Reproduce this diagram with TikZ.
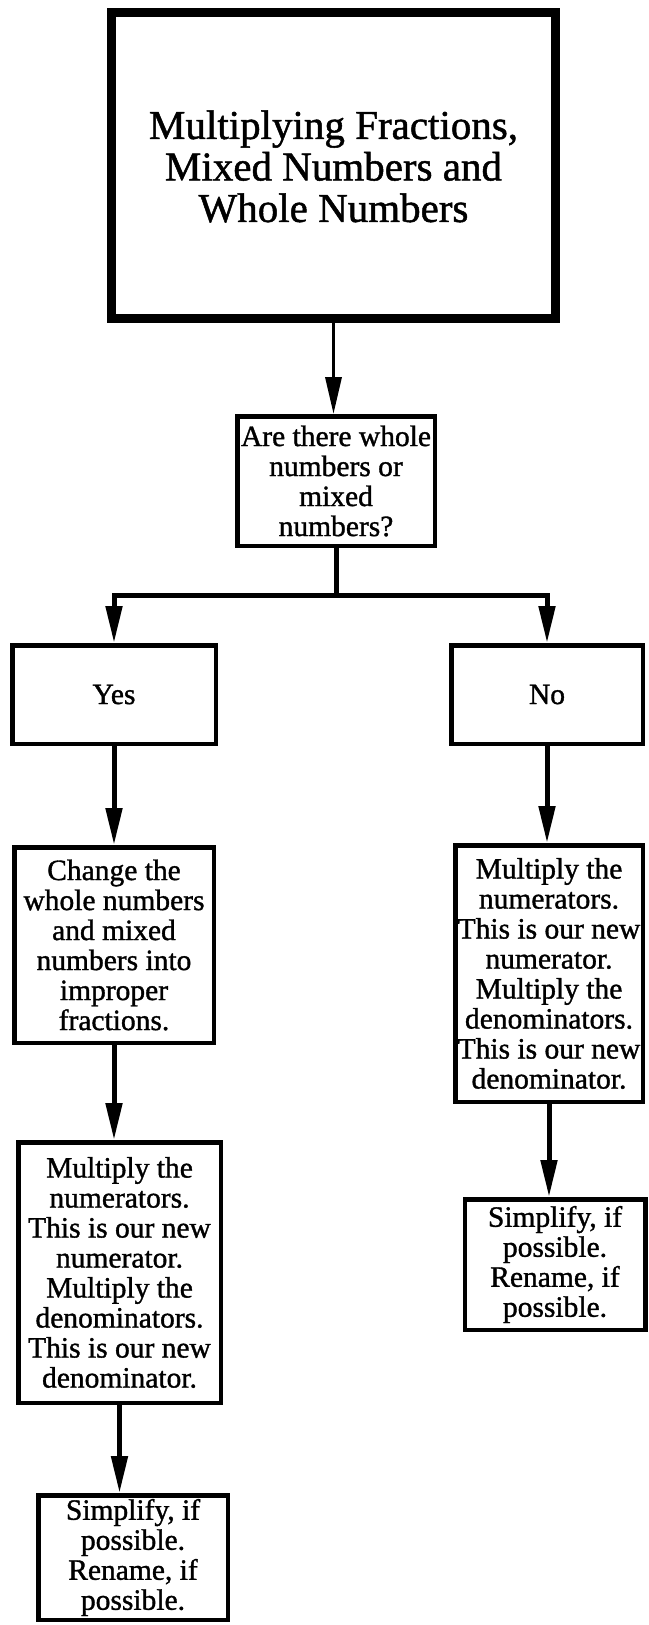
\documentclass[tikz,border=0pt]{standalone}
\usepackage{fontspec}
\setmainfont{Liberation Serif}
\newfontfamily\scanfont{Liberation Serif}[FakeBold=1.2]
\usetikzlibrary{arrows.meta,positioning}

\begin{document}
\begin{tikzpicture}[%
    >={Triangle[length=37pt,width=16pt]}, % Long narrow heads as in the sheet
    on grid,                              % Distances are centre to centre
    node distance=250pt and 220pt,        % Global setup of box spacing
    ]
% -------------------------------------------------
% A few box styles
\tikzset{
  base/.style={draw, line width=4.5pt, align=center, inner xsep=1pt, inner ysep=3pt,
    font={\scanfont\fontsize{29.5}{30}\selectfont}},
  headbox/.style={base, line width=9pt, minimum width=444pt, minimum height=306pt,
    font={\scanfont\fontsize{41}{41.5}\selectfont}},
  askbox/.style={base, minimum width=197.5pt, minimum height=129.5pt},
  answer/.style={base, minimum height=98.5pt},
  % Connector line styles for different parts of the diagram
  norm/.style={->, draw, line width=5pt},
  bar/.style={draw, line width=5pt, line cap=rect},
}
\useasboundingbox (0,0) rectangle (648pt,-1625pt);
% -------------------------------------------------
% Start by placing the nodes
\node [headbox] (head) at (333.5pt,-165.5pt)
  {\rule{0pt}{16pt}\\[-27pt]Multiplying Fractions,\\Mixed Numbers and\\Whole Numbers};
\node [askbox, below=315.5pt of head, xshift=2.5pt] (ask)
  {Are there whole\\numbers or\\mixed\\numbers?};
\node [answer, minimum width=203.5pt, below left=213.5pt and 222pt of ask] (yes) {Yes};
\node [answer, minimum width=191.5pt, below right=213.5pt and 211pt of ask] (no) {No};
% Left column
\node [base, minimum width=199.5pt, minimum height=195.5pt, below=250.5pt of yes] (change)
  {Change the\\whole numbers\\and mixed\\numbers into\\improper\\fractions.};
\node [base, minimum width=202.5pt, minimum height=260.5pt, below=327.5pt of change,
  xshift=5.5pt] (multleft)
  {Multiply the\\numerators.\\This is our new\\numerator.\\Multiply the\\denominators.\\This is our new\\denominator.};
\node [base, minimum width=189.5pt, minimum height=124.5pt, below=285pt of multleft,
  xshift=13.5pt] (simpleft)
  {Simplify, if\\possible.\\Rename, if\\possible.};
% Right column
\node [base, minimum width=187.5pt, minimum height=256.5pt, below=279pt of no,
  xshift=2pt] (multright)
  {Multiply the\\numerators.\\This is our new\\numerator.\\Multiply the\\denominators.\\This is our new\\denominator.};
\node [base, minimum width=180.5pt, minimum height=130.5pt, below=291pt of multright,
  xshift=6pt] (simpright)
  {Simplify, if\\possible.\\Rename, if\\possible.};
% -------------------------------------------------
% Now the connectors
\draw [norm, line width=3.5pt] (head.south) -- (head.south |- ask.north);
\draw [bar] (ask.south) -- ++(0,-47pt) coordinate (split);
\draw [bar] (split -| yes) -- (split -| no);
\draw [norm] (split -| yes) -- (yes.north);
\draw [norm] (split -| no) -- (no.north);
\draw [norm] (yes.south) -- (yes.south |- change.north);
\draw [norm] (change.south) -- (change.south |- multleft.north);
\draw [norm] (multleft.south) -- (multleft.south |- simpleft.north);
\draw [norm] (no.south) -- (no.south |- multright.north);
\draw [norm] (multright.south) -- (multright.south |- simpright.north);
% -------------------------------------------------
\end{tikzpicture}
\end{document}
